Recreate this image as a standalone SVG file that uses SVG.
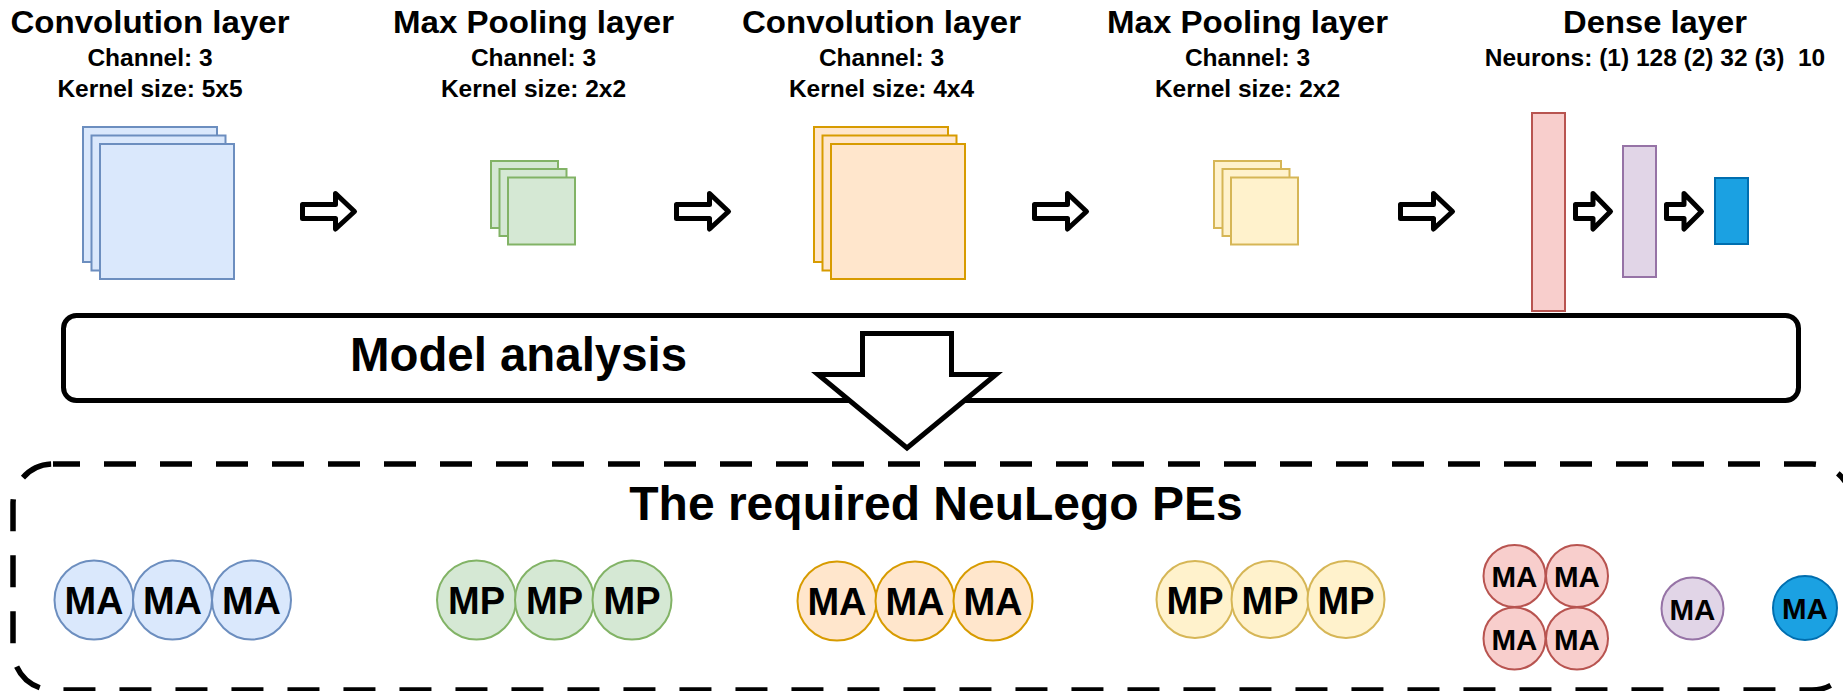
<svg xmlns="http://www.w3.org/2000/svg" width="1843" height="691" viewBox="0 0 1843 691">
<style>
text{font-family:"Liberation Sans",Arial,sans-serif;font-weight:bold;fill:#000;text-anchor:middle}
.title{font-size:31px}
.sub{font-size:24.5px;white-space:pre}
.big{font-size:48px}
.pe{font-size:38px}
.pes{font-size:29.5px}
.lay{stroke-width:2}
.blue{fill:#dae8fc;stroke:#6c8ebf}
.green{fill:#d5e8d4;stroke:#82b366}
.orange{fill:#ffe6cc;stroke:#d79b00}
.yellow{fill:#fff2cc;stroke:#d6b656}
.red{fill:#f8cecc;stroke:#b85450}
.purple{fill:#e1d5e7;stroke:#9673a6}
.cyan{fill:#1ba1e2;stroke:#006eaf}
.arr{fill:#fff;stroke:#000;stroke-width:5;stroke-linejoin:round}
</style>
<defs>
<path id="bigArr" d="M2.5,204.5 H35.5 V193.5 L54.5,211.5 L35.5,229 V218.5 H2.5 Z"/>
<path id="smArr" d="M2.5,204.5 H20 V193.5 L37.5,211.5 L20,229 V218.5 H2.5 Z"/>
</defs>

<g id="conv1">
<text class="title" x="150" y="33" textLength="279" lengthAdjust="spacingAndGlyphs">Convolution layer</text>
<text class="sub" x="150" y="66">Channel: 3</text>
<text class="sub" x="150" y="97">Kernel size: 5x5</text>
<rect class="lay blue" x="83" y="127" width="134" height="135"/>
<rect class="lay blue" x="91.5" y="135.5" width="134" height="135"/>
<rect class="lay blue" x="100" y="144" width="134" height="135"/>
</g>

<g id="pool1">
<text class="title" x="533.5" y="33" textLength="281" lengthAdjust="spacingAndGlyphs">Max Pooling layer</text>
<text class="sub" x="533.5" y="66">Channel: 3</text>
<text class="sub" x="533.5" y="97">Kernel size: 2x2</text>
<rect class="lay green" x="491" y="161" width="67" height="67"/>
<rect class="lay green" x="499.5" y="169" width="67" height="67"/>
<rect class="lay green" x="508" y="177.5" width="67" height="67"/>
</g>

<g id="conv2">
<text class="title" x="881.5" y="33" textLength="279" lengthAdjust="spacingAndGlyphs">Convolution layer</text>
<text class="sub" x="881.5" y="66">Channel: 3</text>
<text class="sub" x="881.5" y="97">Kernel size: 4x4</text>
<rect class="lay orange" x="814" y="127" width="134" height="135"/>
<rect class="lay orange" x="822.5" y="135.5" width="134" height="135"/>
<rect class="lay orange" x="831" y="144" width="134" height="135"/>
</g>

<g id="pool2">
<text class="title" x="1247.5" y="33" textLength="281" lengthAdjust="spacingAndGlyphs">Max Pooling layer</text>
<text class="sub" x="1247.5" y="66">Channel: 3</text>
<text class="sub" x="1247.5" y="97">Kernel size: 2x2</text>
<rect class="lay yellow" x="1214" y="161" width="67" height="67"/>
<rect class="lay yellow" x="1222.5" y="169" width="67" height="67"/>
<rect class="lay yellow" x="1231" y="177.5" width="67" height="67"/>
</g>

<g id="dense">
<text class="title" x="1655" y="33" textLength="184" lengthAdjust="spacingAndGlyphs">Dense layer</text>
<text class="sub" x="1655" y="66">Neurons: (1) 128 (2) 32 (3)  10</text>
<rect class="lay red" x="1532" y="113" width="33" height="198"/>
<rect class="lay purple" x="1623" y="146" width="33" height="131"/>
<rect class="lay cyan" x="1715" y="178" width="33" height="66"/>
</g>

<g id="model-analysis">
<rect x="63.5" y="315.5" width="1735" height="85" rx="13" fill="#fff" stroke="#000" stroke-width="5"/>
<text class="big" x="518.5" y="371" textLength="337" lengthAdjust="spacingAndGlyphs">Model analysis</text>
</g>

<g id="pes">
<rect x="13" y="464" width="1839" height="226" rx="40" fill="none" stroke="#000" stroke-width="5.5" stroke-dasharray="32 24" stroke-dashoffset="5"/>
<text class="big" x="936" y="520">The required NeuLego PEs</text>
</g>

<g id="pe-conv1">
<circle class="lay blue" cx="94" cy="600" r="39.5"/>
<circle class="lay blue" cx="172.5" cy="600" r="39.5"/>
<circle class="lay blue" cx="251.5" cy="600" r="39.5"/>
<text class="pe" x="94" y="614">MA</text>
<text class="pe" x="172.5" y="614">MA</text>
<text class="pe" x="251.5" y="614">MA</text>
</g>

<g id="pe-pool1">
<circle class="lay green" cx="476.5" cy="600" r="39.5"/>
<circle class="lay green" cx="554.5" cy="600" r="39.5"/>
<circle class="lay green" cx="632" cy="600" r="39.5"/>
<text class="pe" x="476.5" y="614">MP</text>
<text class="pe" x="554.5" y="614">MP</text>
<text class="pe" x="632" y="614">MP</text>
</g>

<g id="pe-conv2">
<circle class="lay orange" cx="837" cy="601" r="39.5"/>
<circle class="lay orange" cx="915" cy="601" r="39.5"/>
<circle class="lay orange" cx="993" cy="601" r="39.5"/>
<text class="pe" x="837" y="615">MA</text>
<text class="pe" x="915" y="615">MA</text>
<text class="pe" x="993" y="615">MA</text>
</g>

<g id="pe-pool2">
<circle class="lay yellow" cx="1195" cy="599.5" r="38.5"/>
<circle class="lay yellow" cx="1270" cy="599.5" r="38.5"/>
<circle class="lay yellow" cx="1346" cy="599.5" r="38.5"/>
<text class="pe" x="1195" y="613.5">MP</text>
<text class="pe" x="1270" y="613.5">MP</text>
<text class="pe" x="1346" y="613.5">MP</text>
</g>

<g id="pe-dense1">
<circle class="lay red" cx="1514.5" cy="576" r="31"/>
<circle class="lay red" cx="1577" cy="576" r="31"/>
<circle class="lay red" cx="1514.5" cy="638.5" r="31"/>
<circle class="lay red" cx="1577" cy="638.5" r="31"/>
<text class="pes" x="1514.5" y="587">MA</text>
<text class="pes" x="1577" y="587">MA</text>
<text class="pes" x="1514.5" y="649.5">MA</text>
<text class="pes" x="1577" y="649.5">MA</text>
</g>

<g id="pe-dense2">
<circle class="lay purple" cx="1692.5" cy="608.5" r="31"/>
<text class="pes" x="1692.5" y="619.5">MA</text>
</g>

<g id="pe-dense3">
<circle class="lay cyan" cx="1805" cy="608" r="32"/>
<text class="pes" x="1805" y="619">MA</text>
</g>

<g id="connectors">
<use href="#bigArr" class="arr" x="300"/>
<use href="#bigArr" class="arr" x="674"/>
<use href="#bigArr" class="arr" x="1032"/>
<use href="#bigArr" class="arr" x="1398"/>
<use href="#smArr" class="arr" x="1573"/>
<use href="#smArr" class="arr" x="1664"/>
<path d="M862.5,333.5 H951.5 V374.5 H996 L907,448 L818,374.5 H862.5 Z" fill="#fff" stroke="#000" stroke-width="5" stroke-linejoin="miter"/>
</g>
</svg>
